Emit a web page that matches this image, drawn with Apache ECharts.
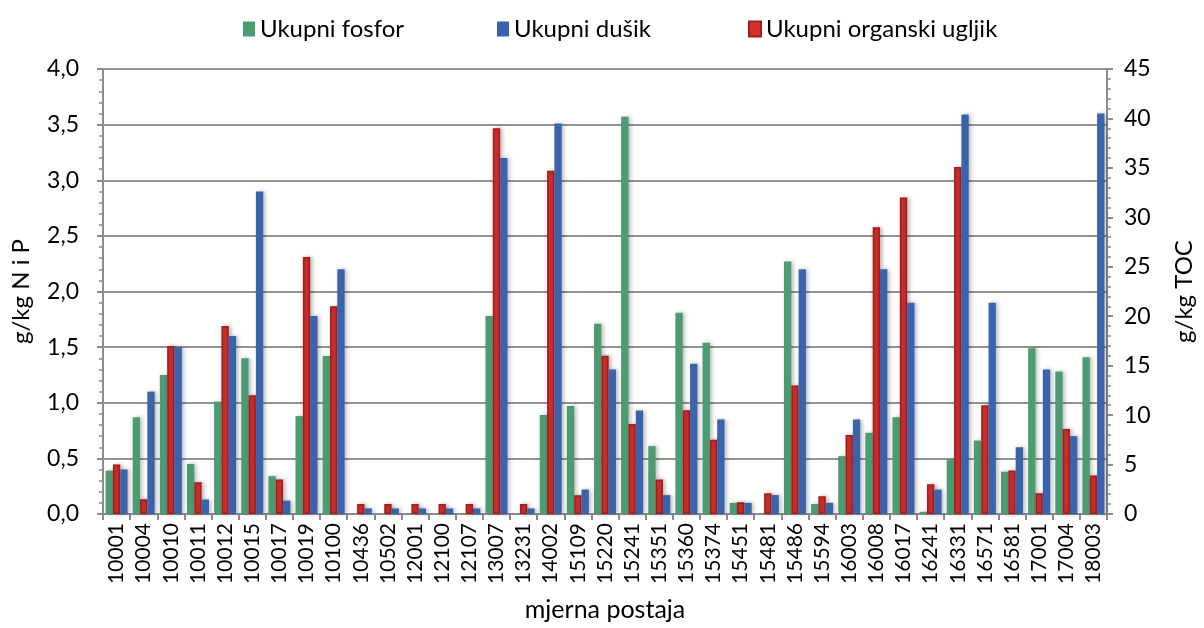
<!DOCTYPE html>
<html>
<head>
<meta charset="utf-8">
<script src="https://cdn.jsdelivr.net/npm/echarts@6/dist/echarts.min.js"></script>
<style>
  html, body { margin: 0; padding: 0; background: #fff; }
  #chart { width: 1204px; height: 628px; }
</style>
</head>
<body>
<div id="chart"></div>
<script>
// mjerne postaje
const categories = ['10001', '10004', '10010', '10011', '10012', '10015', '10017', '10019', '10100',
    '10436', '10502', '12001', '12100', '12107', '13007', '13231', '14002', '15109', '15220',
    '15241', '15351', '15360', '15374', '15451', '15481', '15486', '15594', '16003', '16008',
    '16017', '16241', '16331', '16571', '16581', '17001', '17004', '18003'];

// g/kg, left axis
const fosfor = [0.39, 0.87, 1.25, 0.45, 1.01, 1.40, 0.34, 0.88, 1.42,
    null, null, null, null, null, 1.78, null, 0.89, 0.97, 1.71,
    3.57, 0.61, 1.81, 1.54, 0.10, null, 2.27, 0.09, 0.52, 0.73,
    0.87, 0.02, 0.49, 0.66, 0.38, 1.49, 1.28, 1.41];

const dusik = [0.40, 1.10, 1.50, 0.13, 1.60, 2.90, 0.12, 1.78, 2.20,
    0.05, 0.05, 0.05, 0.05, 0.05, 3.20, 0.05, 3.51, 0.22, 1.30,
    0.93, 0.17, 1.35, 0.85, 0.10, 0.17, 2.20, 0.10, 0.85, 2.20,
    1.90, 0.22, 3.59, 1.90, 0.60, 1.30, 0.70, 3.60];

// g/kg TOC, right axis
const toc = [5.0, 1.5, 17, 3.2, 19, 12, 3.5, 26, 21,
    1.0, 1.0, 1.0, 1.0, 1.0, 39, 1.0, 34.7, 1.9, 16,
    9.1, 3.5, 10.5, 7.5, 1.2, 2.1, 13, 1.8, 8.0, 29,
    32, 3.0, 35.1, 11, 4.4, 2.1, 8.6, 3.9];

const FONT = 'Lato';
const axisGray = '#8c8c8c';

const barShadow = {
    shadowBlur: 4,
    shadowColor: 'rgba(0,0,0,0.28)',
    shadowOffsetX: 2,
    shadowOffsetY: 0
};

// one legend block per series, so each sits where it does in the original
function legendItem(name, left) {
    return {
        data: [name],
        top: 12,
        left: left,
        itemWidth: 12,
        itemHeight: 15,
        icon: 'rect',
        textStyle: { fontFamily: FONT, fontSize: 24, color: '#000', padding: [0, 0, 0, 0] }
    };
}

const chart = echarts.init(document.getElementById('chart'), null, { renderer: 'canvas' });

const option = {
    animation: false,
    textStyle: { fontFamily: FONT, color: '#000' },
    legend: [
        legendItem('Ukupni fosfor', 238),
        legendItem('Ukupni dušik', 492),
        legendItem('Ukupni organski ugljik', 743)
    ],
    grid: {
        left: 103,
        right: 92,
        top: 69,
        bottom: 114
    },
    xAxis: {
        type: 'category',
        data: categories,
        name: 'mjerna postaja',
        nameLocation: 'middle',
        nameGap: 83,
        nameTextStyle: { fontFamily: FONT, fontSize: 25, color: '#000' },
        axisLine: { lineStyle: { color: axisGray, width: 2 } },
        axisTick: { show: true, length: 6, lineStyle: { color: axisGray, width: 2 } },
        axisLabel: {
            rotate: 90,
            interval: 0,
            margin: 9,
            fontFamily: FONT,
            fontSize: 21,
            color: '#000'
        }
    },
    yAxis: [
        {
            type: 'value',
            min: 0,
            max: 4,
            interval: 0.5,
            name: 'g/kg N i P',
            nameLocation: 'middle',
            nameGap: 70,
            nameRotate: 90,
            nameTextStyle: { fontFamily: FONT, fontSize: 24, color: '#000' },
            axisLine: { show: true, lineStyle: { color: axisGray, width: 2 } },
            axisTick: { show: true, length: 6, lineStyle: { color: axisGray, width: 2 } },
            minorTick: { show: true, splitNumber: 5, length: 4, lineStyle: { color: axisGray, width: 1.5 } },
            axisLabel: {
                margin: 24,
                fontFamily: FONT,
                fontSize: 23,
                color: '#000',
                formatter: v => v.toFixed(1).replace('.', ',')
            },
            splitLine: { show: true, lineStyle: { color: '#939393', width: 2 } }
        },
        {
            type: 'value',
            min: 0,
            max: 45,
            interval: 5,
            name: 'g/kg TOC',
            nameLocation: 'middle',
            nameGap: 65,
            nameRotate: 90,
            nameTextStyle: { fontFamily: FONT, fontSize: 24, color: '#000' },
            axisLine: { show: true, lineStyle: { color: axisGray, width: 2 } },
            axisTick: { show: true, length: 6, lineStyle: { color: axisGray, width: 2 } },
            minorTick: { show: true, splitNumber: 5, length: 4, lineStyle: { color: axisGray, width: 1.5 } },
            axisLabel: {
                margin: 17,
                fontFamily: FONT,
                fontSize: 23,
                color: '#000'
            },
            splitLine: { show: false }
        }
    ],
    series: [
        {
            name: 'Ukupni fosfor',
            type: 'bar',
            data: fosfor,
            barGap: '0%',
            barCategoryGap: '19%',
            itemStyle: Object.assign({ color: '#4c9c72' }, barShadow)
        },
        {
            name: 'Ukupni organski ugljik',
            type: 'bar',
            yAxisIndex: 1,
            data: toc,
            itemStyle: Object.assign({ color: '#d2322f', borderColor: '#a71b1b', borderWidth: 1.5 }, barShadow)
        },
        {
            name: 'Ukupni dušik',
            type: 'bar',
            data: dusik,
            itemStyle: Object.assign({ color: '#3b63ac' }, barShadow)
        }
    ]
};

chart.setOption(option);
</script>
</body>
</html>
